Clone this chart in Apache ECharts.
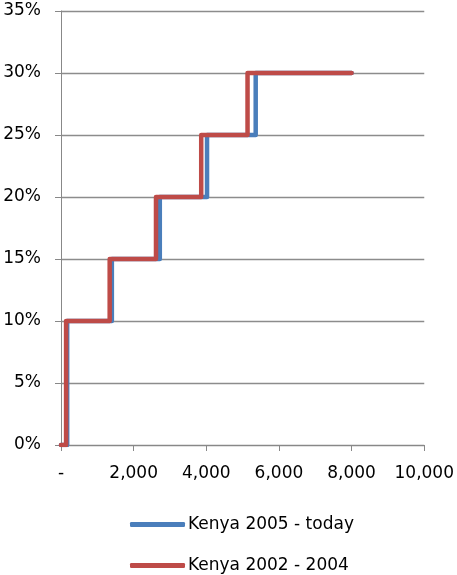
<!DOCTYPE html>
<html>
<head>
<meta charset="utf-8">
<script src="https://cdn.jsdelivr.net/npm/echarts@6/dist/echarts.min.js"></script>
<style>
  html, body { margin: 0; padding: 0; background: #fff; }
  #chart { width: 457px; height: 575px; }
</style>
</head>
<body>
<div id="chart"></div>
<script>
// Step thresholds (x) and the rate reached at each threshold (%)
const seriesNames = ['Kenya 2005 - today', 'Kenya 2002 - 2004'];
const blueX = [0, 170, 1400, 2720, 4020, 5360, 8000];
const blueY = [0, 10, 15, 20, 25, 30, 30];
const redX = [0, 140, 1340, 2615, 3860, 5135, 8000];
const redY = [0, 10, 15, 20, 25, 30, 30];
const colors = ['#4a7ebb', '#be4b48'];

function pairs(xs, ys) { return xs.map((x, i) => [x, ys[i]]); }

const font = "'DejaVu Sans', sans-serif";
const chart = echarts.init(document.getElementById('chart'), null, { renderer: 'canvas' });

chart.setOption({
  animation: false,
  grid: { left: 61, right: 30, top: 11, bottom: 130, containLabel: false },
  xAxis: {
    type: 'value', min: 0, max: 10000, interval: 2000,
    axisLine: { show: true, lineStyle: { color: '#888', width: 1 } },
    axisTick: { show: true, length: 6, lineStyle: { color: '#888' } },
    splitLine: { show: false },
    axisLabel: {
      margin: 20, color: '#000', fontFamily: font, fontSize: 17,
      formatter: v => v === 0 ? '-' : v.toLocaleString('en-US')
    }
  },
  yAxis: {
    type: 'value', min: 0, max: 35, interval: 5,
    axisLine: { show: true, lineStyle: { color: '#888', width: 1 } },
    axisTick: { show: true, length: 6, inside: false, lineStyle: { color: '#888' } },
    splitLine: { show: true, lineStyle: { color: '#8c8c8c', width: 1.3 } },
    axisLabel: { margin: 20, color: '#000', fontFamily: font, fontSize: 17, formatter: '{value}%' }
  },
  legend: {
    orient: 'vertical', left: 130, top: 516, padding: 0,
    itemWidth: 55, itemHeight: 5, itemGap: 24,
    icon: 'roundRect',
    textStyle: { color: '#000', fontFamily: font, fontSize: 17, padding: [0, 0, 0, -2] },
    data: seriesNames
  },
  series: [
    {
      name: seriesNames[0], type: 'line', step: 'end', showSymbol: false,
      data: pairs(blueX, blueY), color: colors[0],
      lineStyle: { width: 4.5, cap: 'round', join: 'round' }
    },
    {
      name: seriesNames[1], type: 'line', step: 'end', showSymbol: false,
      data: pairs(redX, redY), color: colors[1],
      lineStyle: { width: 4.5, cap: 'round', join: 'round' }
    }
  ]
});
</script>
</body>
</html>
